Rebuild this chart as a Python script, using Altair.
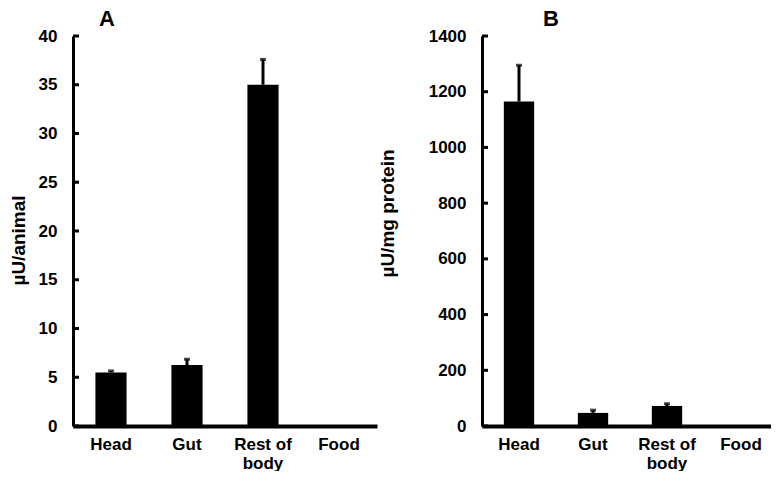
import altair as alt
import pandas as pd

categories = ["Head", "Gut", "Rest of body", "Food"]

# Panel A: µU/animal
a_values = [5.5, 6.25, 35.0, 0.0]
a_errors = [0.15, 0.6, 2.6, 0.0]
a_ticks = [0, 5, 10, 15, 20, 25, 30, 35, 40]

# Panel B: µU/mg protein
b_values = [1165, 47, 72, 3]
b_errors = [130, 10, 8, 0]
b_ticks = [0, 200, 400, 600, 800, 1000, 1200, 1400]

FONT = "Liberation Sans"


def panel(values, errors, ticks, ytitle, letter, letter_x, letter_y, width, height, title_x, title_y):
    df = pd.DataFrame({"cat": categories, "value": values, "err": errors})
    df["top"] = df["value"] + df["err"]
    err_df = df[df["err"] > 0]
    tick_df = pd.DataFrame({"v": ticks})
    letter_df = pd.DataFrame({"t": [letter]})

    yscale = alt.Scale(domain=[ticks[0], ticks[-1]], nice=False, zero=True)
    xscale = alt.Scale(paddingInner=0.59, paddingOuter=0.295)

    x_axis = alt.Axis(
        title=None, labelAngle=0, ticks=False, domainWidth=4, domainColor="black",
        labelFont=FONT, labelFontSize=17, labelFontWeight="bold", labelColor="black",
        labelPadding=10, labelLineHeight=19,
        labelExpr="datum.value == 'Rest of body' ? ['Rest of', 'body'] : datum.value",
    )
    y_axis = alt.Axis(
        values=ticks, ticks=False, grid=False, domainWidth=3, domainColor="black",
        format="d",
        labelFont=FONT, labelFontSize=17, labelFontWeight="bold", labelColor="black",
        labelPadding=16, title=ytitle, titleFont=FONT, titleFontSize=19,
        titleFontWeight="bold", titleColor="black", titleAngle=-90,
        titleBaseline="alphabetic", titleAlign="center", titleX=title_x, titleY=title_y,
    )

    bars = alt.Chart(df).mark_bar(color="black").encode(
        x=alt.X("cat:N", sort=categories, scale=xscale, axis=x_axis),
        y=alt.Y("value:Q", scale=yscale, axis=y_axis),
    )
    stems = alt.Chart(err_df).mark_rule(color="black", strokeWidth=3).encode(
        x=alt.X("cat:N", sort=categories, scale=xscale),
        y=alt.Y("value:Q", scale=yscale),
        y2="top:Q",
    )
    caps = alt.Chart(err_df).mark_tick(color="black", thickness=3, size=6).encode(
        x=alt.X("cat:N", sort=categories, scale=xscale),
        y=alt.Y("top:Q", scale=yscale),
    )
    yticks = alt.Chart(tick_df).mark_rule(color="black", strokeWidth=3).encode(
        y=alt.Y("v:Q", scale=yscale),
        x=alt.value(0),
        x2=alt.value(6),
    )
    label = alt.Chart(letter_df).mark_text(
        font=FONT, fontSize=22, fontWeight="bold", color="black",
        align="center", baseline="alphabetic",
    ).encode(text="t:N", x=alt.value(letter_x), y=alt.value(letter_y))
    return alt.layer(bars, stems, caps, yticks, label).properties(
        width=width,
        height=height,
    )


chart_a = panel(a_values, a_errors, a_ticks, "µU/animal", "A", 34, -10, 304, 390, -49, 204)
chart_b = panel(b_values, b_errors, b_ticks, "µU/mg protein", "B", 69, -10, 296, 390, -89, 177)

chart = alt.hconcat(chart_a, chart_b, spacing=105, bounds="flush").properties(
    padding={"left": 1, "top": 0, "right": -7, "bottom": 0}
).configure_view(stroke=None)

chart.save("out.html", embed_options={"renderer": "svg", "actions": False})
